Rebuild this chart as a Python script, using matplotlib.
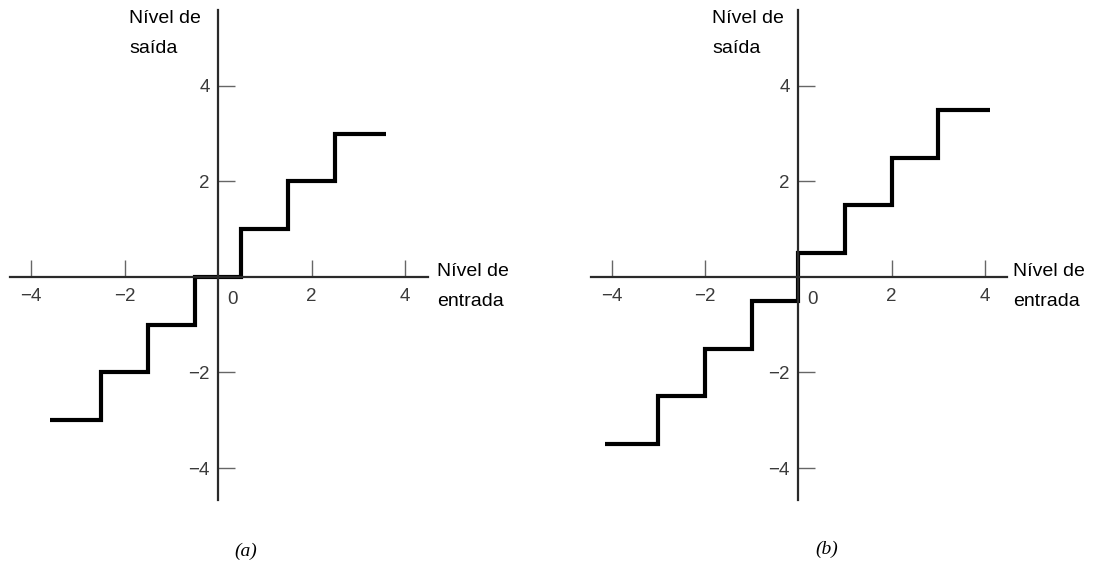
import matplotlib
matplotlib.use('Agg')
import matplotlib.pyplot as plt

plt.rcParams['font.family'] = ['Liberation Sans', 'DejaVu Sans']

# quantizer (a): midtread, (b): midrise
edges_a = [-3.6, -2.5, -1.5, -0.5, 0.5, 1.5, 2.5, 3.6]
levels_a = [-3, -2, -1, 0, 1, 2, 3]
edges_b = [-4.15, -3, -2, -1, 0, 1, 2, 3, 4.1]
levels_b = [-3.5, -2.5, -1.5, -0.5, 0.5, 1.5, 2.5, 3.5]

ticks = [-4, -2, 2, 4]
ylabel = 'Nível de\nsaída'
xlabel = 'Nível de\nentrada'
captions = ['(a)', '(b)']

W, H = 1095, 565
fig = plt.figure(figsize=(W / 100, H / 100), dpi=100)

# axes boxes in pixels: left, right, top, bottom
boxes = [(10, 428, 10, 500), (591, 1007, 10, 500)]
xlims = [(-4.45, 4.49), (-4.44, 4.47)]
ylim = (-4.67, 5.59)
data = [(edges_a, levels_a), (edges_b, levels_b)]
cap_pos = [(246, 551), (827, 549)]
ylab_x = [-1.90, -1.85]
xlab_x = [4.68, 4.60]

for i in range(2):
    l, r, t, b = boxes[i]
    ax = fig.add_axes([l / W, 1 - b / H, (r - l) / W, (b - t) / H])
    ax.set_xlim(xlims[i])
    ax.set_ylim(ylim)
    for s in ['top', 'right']:
        ax.spines[s].set_visible(False)
    for s in ['left', 'bottom']:
        ax.spines[s].set_position(('data', 0))
        ax.spines[s].set_linewidth(1.6)
        ax.spines[s].set_color('#2a2a2a')
    ax.set_xticks(ticks)
    ax.set_yticks(ticks)
    ax.tick_params(axis='x', direction='in', length=12, width=1.0, color='#666666',
                   labelsize=13.5, labelcolor='#3a3a3a', pad=8)
    ax.tick_params(axis='y', direction='in', length=12, width=1.0, color='#666666',
                   labelsize=13.5, labelcolor='#3a3a3a', pad=6)
    ax.text(0.3, -0.3, '0', fontsize=13.5, color='#3a3a3a', ha='center', va='top')

    edges, levels = data[i]
    st = ax.stairs(levels, edges, baseline=None, color='black', linewidth=3)
    st.set_joinstyle('miter')

    ax.text(ylab_x[i], 5.6, ylabel, fontsize=14, ha='left', va='top',
            linespacing=2.0, clip_on=False)
    ax.text(xlab_x[i], -0.2, xlabel, fontsize=14, ha='left', va='center',
            linespacing=2.0, clip_on=False)

    cx, cy = cap_pos[i]
    fig.text(cx / W, 1 - cy / H, captions[i], fontsize=14, ha='center', va='center',
             family='Liberation Serif', style='italic')

fig.savefig('out.png', dpi=100)
